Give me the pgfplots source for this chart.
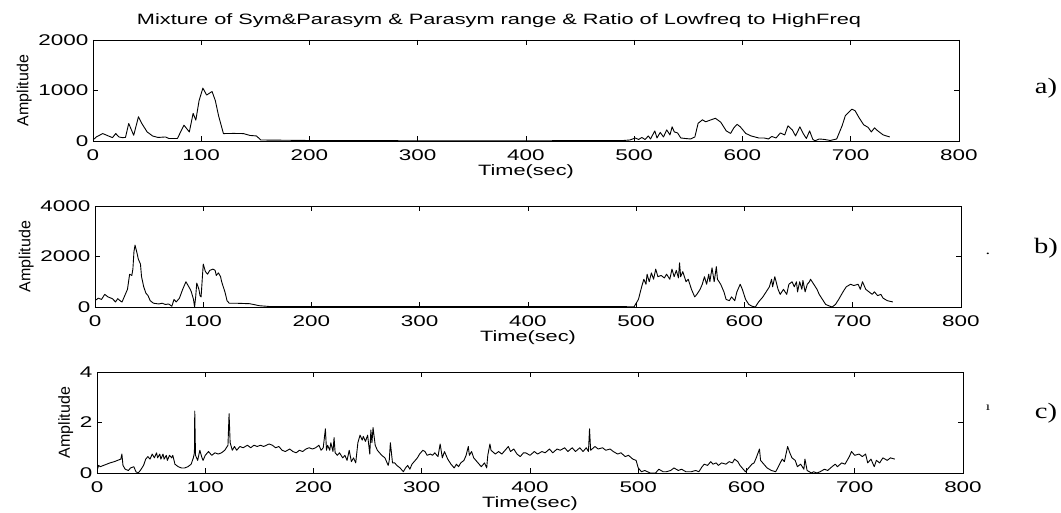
\documentclass[border=0pt]{standalone}
\usepackage{fontspec}
\setmainfont{Liberation Sans}[FakeStretch=1.45]
\newfontfamily\plainsans{Liberation Sans}
\newfontfamily\abcfont{Liberation Serif}[FakeStretch=1.3]
\usepackage{pgfplots}
\pgfplotsset{compat=1.18}
\pgfplotsset{
 mstyle/.style={
  scale only axis, width=866pt, height=101pt, anchor=south west,
  xmin=0, xmax=800, xtick={0,100,...,800},
  tick align=inside, tick pos=both, major tick length=5pt,
  axis line style={line width=0.8pt},
  every tick/.style={black, line width=0.8pt},
  tick label style={font=\fontsize{15.5}{17}\selectfont},
  xticklabel style={yshift=-5pt},
  yticklabel style={xshift=-1pt},
  /pgf/number format/assume math mode=true,
  /pgf/number format/1000 sep={},
  scaled ticks=false,
  xlabel={Time(sec)}, ylabel={Amplitude},
  xlabel style={font=\fontsize{15}{17}\selectfont, yshift=3pt},
  ylabel style={font=\plainsans\fontsize{16}{18}\selectfont},
 },
 sig/.style={black, line width=0.9pt, line join=round, mark=none},
}
\begin{document}
\begin{tikzpicture}
\useasboundingbox (0,0) rectangle (1061pt,512pt);
\node[font=\fontsize{15}{18}\selectfont, anchor=base] at (499pt,487pt) {Mixture of Sym\&Parasym \& Parasym range \& Ratio of Lowfreq to HighFreq};
% panel a
\begin{axis}[mstyle, at={(93pt,371pt)}, ymin=0, ymax=2000, ytick={0,1000,2000}]
\addplot[sig] coordinates {(0,30)(1.5,47)(3,80)(9,147)(15,93)(18,67)(21,147)(24,80)(27,67)(30,70)(33,347)(37.6,113)(42,480)(45,350)(50,180)(55,100)(60,70)(67,80)(70,50)(78,50)(84,313)(89,180)(92.5,547)(95,413)(98,800)(101.5,1047)(105,910)(110,980)(113,800)(116,500)(120.5,147)(130,150)(139,147)(145,110)(151,100)(155,20)(200,10)(300,5)(400,5)(480,8)(490,10)(496,20)(501,60)(504,30)(507,70)(510,30)(513,100)(515,40)(519,200)(521,60)(524,170)(527,80)(530,220)(533,120)(535,280)(537,180)(540,160)(543,60)(547,50)(552,40)(556,80)(559,350)(563,420)(566,380)(571,420)(575,450)(580,370)(585,200)(589,150)(592,260)(595,330)(598,280)(603,150)(608,100)(615,60)(620,60)(624,40)(627,90)(631,60)(635,160)(639,120)(642,300)(646,220)(649,100)(653,280)(656,150)(659,50)(662,200)(665,30)(667,5)(671,40)(676,30)(681,10)(687,40)(692,300)(695,500)(701,630)(704,600)(708,450)(712,320)(716,270)(719,180)(722,260)(725,200)(730,120)(736,80)};
\end{axis}
% panel b
\begin{axis}[mstyle, at={(95pt,205pt)}, ymin=0, ymax=4000, ytick={0,2000,4000}]
\addplot[sig] coordinates {(1,280)(3,350)(6,300)(9,500)(12,400)(16,330)(19,200)(21,330)(24,220)(25,200)(28,500)(30,700)(32,1300)(34,1250)(35,1500)(36,2200)(37,2450)(39,2100)(40,1900)(42,1700)(43,1200)(45,800)(47,550)(49,450)(51,250)(54,150)(59,120)(62,150)(65,100)(68,120)(71,30)(73,300)(75,200)(78,350)(81,700)(84,1000)(86,850)(88,700)(89,600)(91,300)(92,0)(93,400)(94,950)(96,700)(97,450)(98,400)(100,1700)(102,1400)(104,1300)(106,1450)(109,1500)(111,1450)(112,1250)(114,1350)(116,1200)(117,1000)(120,600)(122,250)(124,150)(130,150)(143,130)(152,50)(161,20)(200,15)(300,15)(400,15)(480,15)(498,10)(502,300)(505,800)(507,1100)(509,900)(510,1300)(512,1000)(514,1350)(516,1100)(518,1500)(520,1200)(523,1250)(526,1150)(528,1300)(531,1100)(533,1500)(535,1200)(537,1450)(539,1150)(540,1750)(541,1200)(543,1400)(546,1000)(548,1100)(551,700)(554,400)(556,500)(559,700)(561,900)(563,1200)(565,900)(567,1300)(568,1000)(570,1550)(572,1000)(574,1600)(575,1100)(578,900)(581,600)(583,300)(586,250)(588,400)(591,250)(593,600)(596,900)(598,700)(601,300)(604,100)(607,30)(610,0)(613,200)(617,400)(620,600)(623,800)(625,1100)(626,800)(628,1200)(631,700)(633,500)(636,700)(639,500)(641,900)(644,1000)(646,800)(648,1000)(649,600)(651,1000)(653,700)(654,1050)(656,600)(658,900)(660,1000)(661,1100)(664,900)(667,700)(669,500)(672,300)(675,100)(679,30)(681,0)(684,100)(687,300)(691,600)(694,800)(698,900)(701,850)(705,900)(707,700)(709,1000)(712,700)(715,600)(718,500)(720,600)(723,450)(726,500)(728,350)(732,250)(737,200)};
\end{axis}
% panel c
\begin{axis}[mstyle, at={(97pt,39pt)}, ymin=0, ymax=4, ytick={0,2,4}]
\addplot[sig] coordinates {(0,0.1)(1.5,0.3)(3,0.25)(6,0.3)(9,0.35)(12,0.4)(16,0.45)(19,0.5)(22,0.55)(23,0.75)(24,0.3)(26,0.15)(29,0.1)(31,0.2)(34,0.25)(36,0.05)(38,0.0)(40,0.1)(43,0.3)(45,0.55)(47,0.65)(49,0.55)(51,0.75)(53,0.6)(55,0.8)(56,0.6)(58,0.75)(59,0.55)(61,0.75)(62,0.55)(64,0.7)(65,0.5)(67,0.7)(69,0.6)(70,0.7)(72,0.35)(75,0.25)(78,0.2)(81,0.2)(84,0.25)(87,0.35)(89,0.6)(90,0.8)(90.3,2.45)(91,0.7)(93,0.5)(95,0.9)(97,0.6)(98,0.5)(100,0.7)(103,0.85)(106,0.7)(109,0.8)(112,0.75)(115,0.8)(118,0.9)(121,1.1)(122,2.35)(123,1.2)(125,0.9)(127,1.05)(129,0.9)(132,1.05)(135,1.0)(139,1.1)(142,1.0)(145,1.1)(148,1.05)(151,1.1)(154,1.05)(159,1.15)(162,1.1)(165,1.0)(168,1.05)(171,0.9)(174,0.85)(178,0.95)(181,0.85)(184,0.8)(187,0.9)(190,0.85)(193,0.95)(196,1.0)(199,0.95)(202,1.0)(205,1.1)(207,0.9)(209,1.0)(211,1.75)(212,0.9)(213,1.1)(215,0.9)(216,1.2)(218,0.85)(219,1.4)(220,0.8)(222,0.7)(224,0.8)(227,0.6)(229,0.7)(231,0.5)(233,0.9)(235,0.45)(237,0.6)(239,0.4)(241,1.2)(243,1.5)(245,1.3)(246,1.45)(248,1.25)(250,1.5)(252,0.75)(253,1.7)(254,1.2)(255,1.8)(257,1.1)(259,0.9)(261,0.8)(263,0.7)(266,0.6)(269,0.3)(270,0.5)(271,1.2)(273,0.4)(275,0.4)(277,0.3)(280,0.2)(283,0.05)(285,0.2)(287,0.3)(289,0.15)(291,0.35)(293,0.45)(296,0.6)(298,0.75)(301,0.9)(303,0.85)(305,0.7)(308,0.75)(310,0.7)(312,0.8)(315,0.65)(317,1.15)(319,0.6)(321,0.85)(324,0.55)(327,0.35)(330,0.2)(332,0.35)(334,0.25)(336,0.4)(339,0.5)(341,0.7)(343,1.05)(344,0.7)(346,0.85)(348,0.6)(350,0.5)(353,0.35)(355,0.25)(358,0.4)(360,0.2)(361,0.7)(363,1.15)(364,0.9)(368,0.75)(371,0.85)(374,0.75)(377,0.9)(380,1.05)(382,0.85)(385,0.95)(388,0.75)(391,0.65)(394,0.8)(396,0.8)(400,0.7)(404,0.85)(407,0.75)(411,0.85)(414,0.8)(418,0.95)(421,0.8)(425,0.95)(428,0.9)(432,1.0)(435,0.85)(439,1.0)(442,0.85)(446,1.0)(449,0.85)(452,1.0)(454,0.85)(455,1.75)(456,0.9)(460,1.05)(463,0.95)(467,1.0)(470,0.9)(474,0.95)(477,0.85)(481,0.75)(484,0.8)(488,0.65)(491,0.7)(495,0.55)(498,0.5)(500,0.2)(503,0.05)(506,0.1)(511,0.0)(516,0.0)(519,0.15)(523,0.05)(526,0.05)(530,0.1)(533,0.2)(537,0.1)(540,0.15)(544,0.05)(549,0.05)(553,0.1)(556,0.05)(559,0.25)(561,0.35)(564,0.3)(567,0.45)(569,0.35)(572,0.4)(574,0.3)(577,0.4)(581,0.35)(584,0.45)(587,0.4)(589,0.55)(592,0.45)(594,0.3)(596,0.2)(599,0.05)(602,0.2)(605,0.35)(607,0.4)(609,0.6)(612,0.95)(613,0.5)(616,0.35)(619,0.2)(623,0.1)(627,0.05)(630,0.3)(633,0.55)(635,0.45)(638,1.05)(640,0.8)(642,0.6)(645,0.5)(647,0.25)(650,0.35)(653,0.15)(654,0.55)(656,0.1)(660,0.0)(662,0.05)(665,0.0)(668,0.05)(672,0.15)(675,0.1)(679,0.25)(682,0.35)(684,0.25)(688,0.4)(691,0.35)(695,0.65)(697,0.85)(700,0.7)(704,0.75)(707,0.65)(710,0.75)(712,0.4)(715,0.55)(718,0.25)(720,0.5)(723,0.4)(726,0.6)(730,0.5)(733,0.6)(737,0.55)};
\end{axis}
\node[font=\abcfont\fontsize{22}{24}\selectfont] at (1046pt,424pt) {a)};
\node[font=\abcfont\fontsize{22}{24}\selectfont] at (1046pt,264pt) {b)};
\node[font=\abcfont\fontsize{22}{24}\selectfont] at (1046pt,99pt) {c)};
\node[font=\abcfont\fontsize{14}{16}\selectfont] at (988pt,258pt) {.};
\node[font=\abcfont\fontsize{12}{14}\selectfont] at (988pt,104pt) {ı};
\end{tikzpicture}
\end{document}
